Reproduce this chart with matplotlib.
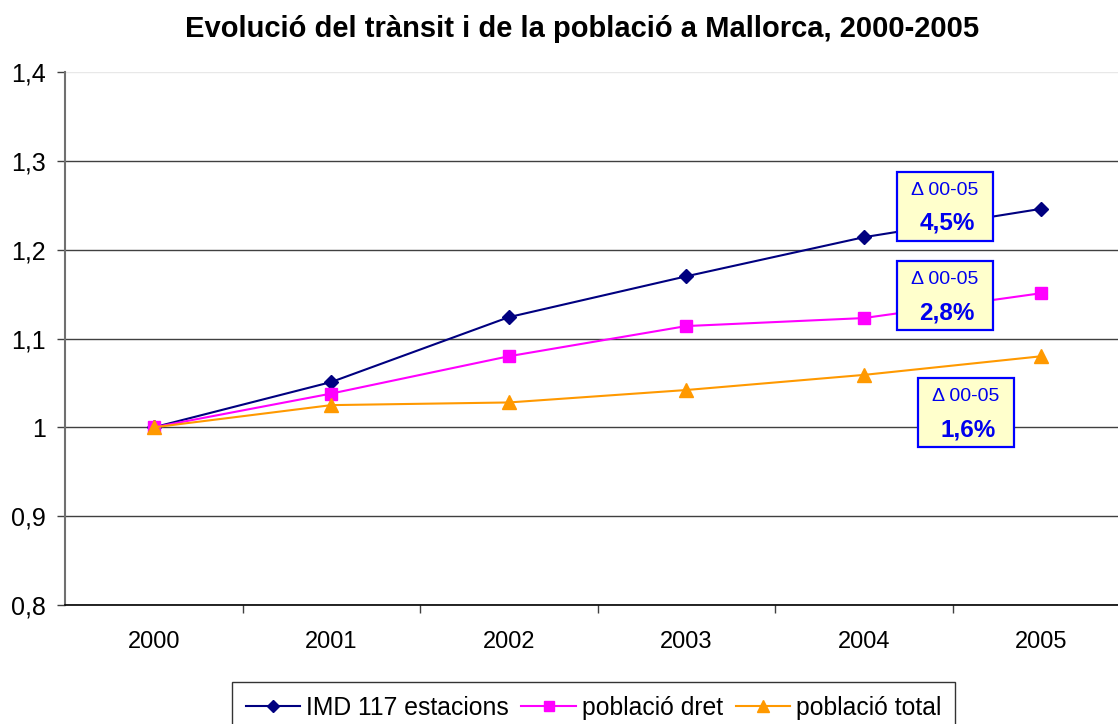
import matplotlib
matplotlib.use("Agg")
import matplotlib.pyplot as plt
from matplotlib.patches import Rectangle
from matplotlib.ticker import FixedLocator, FuncFormatter

plt.rcParams['font.family'] = ['Liberation Sans', 'DejaVu Sans']

years = ['2000', '2001', '2002', '2003', '2004', '2005']
imd = [1.0, 1.051, 1.124, 1.170, 1.214, 1.246]
dret = [1.0, 1.038, 1.080, 1.114, 1.123, 1.151]
total = [1.0, 1.025, 1.028, 1.042, 1.059, 1.080]
series_names = ['IMD 117 estacions', 'població dret', 'població total']
box_labels = ['4,5%', '2,8%', '1,6%']
yticks = [0.8, 0.9, 1.0, 1.1, 1.2, 1.3, 1.4]

fig = plt.figure(figsize=(11.18, 7.24), dpi=100)
ax = fig.add_axes([65/1118, (724-605)/724, 1065/1118, (605-72)/724])

x = list(range(len(years)))
l1, = ax.plot(x, imd, color='#000080', lw=1.5, marker='D', ms=7, label=series_names[0])
l2, = ax.plot(x, dret, color='#FF00FF', lw=1.5, marker='s', ms=8, label=series_names[1])
l3, = ax.plot(x, total, color='#FF9900', lw=1.5, marker='^', ms=10, label=series_names[2])

ax.set_xlim(-0.5, len(years) - 0.5)
ax.set_ylim(0.8, 1.4)
ax.set_xticks(x)
ax.set_xticklabels(years, fontsize=17)
ax.xaxis.set_minor_locator(FixedLocator([i + 0.5 for i in range(len(years) - 1)]))
ax.tick_params(axis='x', which='major', length=0, pad=19)
ax.tick_params(axis='x', which='minor', length=6, width=1, color='#404040')
ax.set_yticks(yticks)
ax.yaxis.set_major_formatter(FuncFormatter(lambda v, p: ('%g' % round(v, 1)).replace('.', ',')))
ax.tick_params(axis='y', which='major', length=6, width=1, color='#404040', labelsize=18, pad=8)

ax.grid(axis='y', color='#404040', lw=1)
gl = ax.get_ygridlines()
gl[-1].set_color('#e8e8e8')
for s in ['top', 'right']:
    ax.spines[s].set_visible(False)
ax.spines['left'].set_color('#707070')
ax.spines['left'].set_linewidth(1.5)
ax.spines['bottom'].set_color('#000000')
ax.spines['bottom'].set_linewidth(1.2)
ax.set_axisbelow(True)

fig.text(0.521, 1 - 29/724, 'Evolució del trànsit i de la població a Mallorca, 2000-2005',
         fontsize=21, fontweight='bold', ha='center', va='center')

# annotation boxes (pixel layout converted to data units)
px_x = 1.0 / 177.5
px_y = 0.1 / 88.8
box_centers = [(4.458, 1.249), (4.458, 1.148), (4.576, 1.0165)]
bw, bh = 96 * px_x, 69 * px_y
for (cx, cy), lab in zip(box_centers, box_labels):
    ax.add_patch(Rectangle((cx - bw / 2, cy - bh / 2), bw, bh, facecolor='#FFFFCC',
                           edgecolor='#0000FF', lw=1.6, zorder=5))
    ax.text(cx, cy + bh * 0.23, 'Δ 00-05', ha='center', va='center', fontsize=14,
            color='#0000EE', zorder=6)
    ax.text(cx + 2 * px_x, cy - bh * 0.25, lab, ha='center', va='center', fontsize=17.5,
            fontweight='bold', color='#0000EE', zorder=6)

leg = fig.legend(handles=[l1, l2, l3], loc='upper center', bbox_to_anchor=(0.531, 0.0575),
                 ncol=3, fontsize=17.8, frameon=True, fancybox=False, edgecolor='#000000',
                 handlelength=2.2, handletextpad=0.25, columnspacing=0.5, borderpad=0.55,
                 borderaxespad=0, markerscale=0.9)
leg.get_frame().set_linewidth(1.0)

fig.savefig('out.png', dpi=100)
